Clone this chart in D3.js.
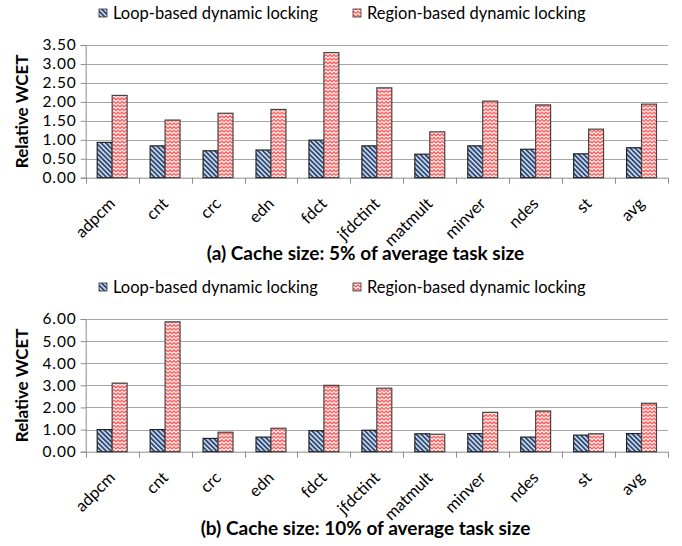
<!DOCTYPE html>
<html>
<head>
<meta charset="utf-8">
<script src="https://cdn.jsdelivr.net/npm/d3@7"></script>
<style>
  html, body { margin: 0; padding: 0; background: #fff; }
  svg { display: block; }
  text { font-family: Lato, "Open Sans", sans-serif; fill: #000; }
</style>
</head>
<body>
<script>
// ---------------- data ----------------
const categories = ["adpcm", "cnt", "crc", "edn", "fdct", "jfdctint", "matmult", "minver", "ndes", "st", "avg"];
const seriesNames = ["Loop-based dynamic locking", "Region-based dynamic locking"];

// (a) Cache size: 5%
const loopA   = [0.93, 0.84, 0.71, 0.73, 0.99, 0.84, 0.62, 0.84, 0.75, 0.63, 0.79];
const regionA = [2.17, 1.52, 1.70, 1.80, 3.30, 2.37, 1.21, 2.02, 1.92, 1.28, 1.94];
const ticksA  = [0, 0.5, 1, 1.5, 2, 2.5, 3, 3.5];

// (b) Cache size: 10%
const loopB   = [1.00, 1.00, 0.60, 0.66, 0.95, 0.97, 0.81, 0.82, 0.66, 0.75, 0.82];
const regionB = [3.10, 5.87, 0.88, 1.06, 3.00, 2.87, 0.79, 1.78, 1.84, 0.81, 2.19];
const ticksB  = [0, 1, 2, 3, 4, 5, 6];

const titleA = "(a) Cache size: 5% of average task size";
const titleB = "(b) Cache size: 10% of average task size";
const yTitle = "Relative WCET";

// ---------------- drawing ----------------
const W = 682, H = 546;
const svg = d3.select("body").append("svg").attr("width", W).attr("height", H);

const defs = svg.append("defs");
// blue diagonal stripes
const pb = defs.append("pattern").attr("id", "stripe").attr("patternUnits", "userSpaceOnUse")
  .attr("width", 3.4).attr("height", 3.4).attr("patternTransform", "rotate(-45)");
pb.append("rect").attr("width", 3.4).attr("height", 3.4).attr("fill", "#dfe6f0");
pb.append("rect").attr("width", 1.9).attr("height", 3.4).attr("fill", "#2b4a7a");
// red zigzag waves
const pr = defs.append("pattern").attr("id", "wave").attr("patternUnits", "userSpaceOnUse")
  .attr("width", 4).attr("height", 3.6);
pr.append("rect").attr("width", 4).attr("height", 3.6).attr("fill", "#fff");
pr.append("path").attr("d", "M0,2.6 L1,1.6 L2,0.6 L3,1.6 L4,2.6")
  .attr("fill", "none").attr("stroke", "#ff2424").attr("stroke-width", 1.05);
pr.append("path").attr("d", "M0,3.4 L1,2.4 L2,1.4 L3,2.4 L4,3.4")
  .attr("fill", "none").attr("stroke", "#ff9a9a").attr("stroke-width", 0.7);

const fills = ["url(#stripe)", "url(#wave)"];
const strokes = ["#222", "#444"];

function panel(cfg) {
  const g = svg.append("g");
  const x = d3.scaleBand().domain(categories).range([85.7, 668]).paddingInner(0).paddingOuter(0);
  const y = d3.scaleLinear().domain([0, d3.max(cfg.ticks)]).range([cfg.y0, cfg.y1]);
  const xs = d3.scaleBand().domain([0, 1]).range([0, x.bandwidth()]).paddingOuter(0.77).paddingInner(0);

  // gridlines
  g.append("g").selectAll("line").data(cfg.ticks.slice(1)).join("line")
    .attr("x1", x.range()[0]).attr("x2", x.range()[1])
    .attr("y1", d => Math.round(y(d)) + 0.5).attr("y2", d => Math.round(y(d)) + 0.5)
    .attr("stroke", "#a6a6a6").attr("stroke-width", 1);

  // y axis
  const ya = d3.axisLeft(y).tickValues(cfg.ticks).tickFormat(d3.format(".2f")).tickSize(5).tickPadding(4);
  const yg = g.append("g").attr("transform", `translate(${x.range()[0]},0)`).call(ya);
  yg.select(".domain").attr("stroke", "#8c8c8c");
  yg.selectAll(".tick line").attr("stroke", "#8c8c8c");
  yg.selectAll(".tick text").style("font-size", "15.5px").style("letter-spacing", "0.9px")
    .style("font-family", "Lato, sans-serif").attr("fill", "#000");

  // x axis line + ticks at band boundaries
  const edges = categories.map(c => x(c)).concat([x.range()[1]]);
  g.append("line").attr("x1", x.range()[0]).attr("x2", x.range()[1])
    .attr("y1", cfg.y0 + 0.5).attr("y2", cfg.y0 + 0.5).attr("stroke", "#8c8c8c");
  g.append("g").selectAll("line").data(edges).join("line")
    .attr("x1", d => Math.round(d) + 0.5).attr("x2", d => Math.round(d) + 0.5)
    .attr("y1", cfg.y0).attr("y2", cfg.y0 + 6).attr("stroke", "#8c8c8c");

  // bars
  const series = [cfg.loop, cfg.region];
  series.forEach((vals, si) => {
    g.append("g").selectAll("rect").data(categories).join("rect")
      .attr("x", (c) => x(c) + xs(si))
      .attr("y", (c, i) => y(vals[i]))
      .attr("width", xs.bandwidth())
      .attr("height", (c, i) => cfg.y0 - y(vals[i]))
      .attr("fill", fills[si]).attr("stroke", strokes[si]).attr("stroke-width", 1.2);
  });

  // category labels
  g.append("g").selectAll("text").data(categories).join("text")
    .attr("transform", c => `translate(${x(c) + x.bandwidth() / 2 + 4},${cfg.y0 + 27}) rotate(-45)`)
    .attr("text-anchor", "end").style("font-size", "16.5px").text(c => c);

  // y title
  g.append("text").attr("transform", `translate(28,${(cfg.y0 + cfg.y1) / 2}) rotate(-90)`)
    .attr("text-anchor", "middle").style("font-size", "17px").style("font-weight", "bold").text(yTitle);

  // legend
  const lg = g.append("g");
  const lx = [99, 353];
  seriesNames.forEach((n, i) => {
    lg.append("rect").attr("x", lx[i]).attr("y", cfg.legendY - 4).attr("width", 8).attr("height", 8)
      .attr("fill", fills[i]).attr("stroke", "#333").attr("stroke-width", 0.8);
    lg.append("text").attr("x", lx[i] + 14).attr("y", cfg.legendY + 6)
      .style("font-size", "16.5px").text(n);
  });

  // title
  g.append("text").attr("x", 365.5).attr("y", cfg.titleY).attr("text-anchor", "middle")
    .style("font-size", "19px").style("font-weight", "bold").text(cfg.title);
}

panel({ loop: loopA, region: regionA, ticks: ticksA, y0: 177.7, y1: 45, legendY: 13, titleY: 260, title: titleA });
panel({ loop: loopB, region: regionB, ticks: ticksB, y0: 451.7, y1: 319, legendY: 287, titleY: 535, title: titleB });
</script>
</body>
</html>
